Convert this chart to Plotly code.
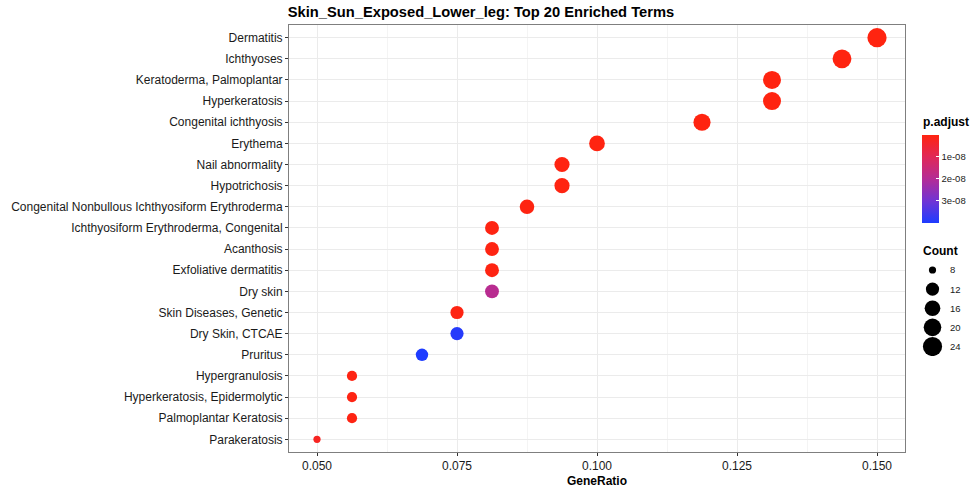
import plotly.graph_objects as go
import math

# ---------------- data ----------------
terms = [
    "Dermatitis", "Ichthyoses", "Keratoderma, Palmoplantar", "Hyperkeratosis",
    "Congenital ichthyosis", "Erythema", "Nail abnormality", "Hypotrichosis",
    "Congenital Nonbullous Ichthyosiform Erythroderma",
    "Ichthyosiform Erythroderma, Congenital", "Acanthosis", "Exfoliative dermatitis",
    "Dry skin", "Skin Diseases, Genetic", "Dry Skin, CTCAE", "Pruritus",
    "Hypergranulosis", "Hyperkeratosis, Epidermolytic", "Palmoplantar Keratosis",
    "Parakeratosis",
]
gene_ratio = [0.15, 0.14375, 0.13125, 0.13125, 0.11875, 0.1, 0.09375, 0.09375,
              0.0875, 0.08125, 0.08125, 0.08125, 0.08125, 0.075, 0.075, 0.06875,
              0.05625, 0.05625, 0.05625, 0.05]
counts = [24, 23, 21, 21, 19, 16, 15, 15, 14, 13, 13, 13, 13, 12, 12, 11, 9, 9, 9, 8]
p_adjust = [1e-12, 5e-12, 2e-11, 3e-11, 5e-11, 1e-10, 1.5e-10, 1.5e-10, 2e-10, 3e-10,
            3e-10, 3e-10, 1.9e-08, 2.5e-10, 3.9e-08, 4.0e-08, 4e-10, 4e-10, 4e-10,
            2.5e-09]
x_ticks = [0.05, 0.075, 0.1, 0.125, 0.15]
cbar_ticks = [1e-08, 2e-08, 3e-08]
count_legend = [8, 12, 16, 20, 24]

# ---------------- scales ----------------
cmin_c, cmax_c = min(counts), max(counts)


def size_scale(c):
    # ggplot-like area scale, range (3, 8)
    t = (c - cmin_c) / (cmax_c - cmin_c)
    return 2.4 * (3 + 5 * math.sqrt(t))


colorscale = [
    [0.0, "#1E3CFF"],
    [0.25, "#7034D4"],
    [0.5, "#B42C96"],
    [0.75, "#E02858"],
    [1.0, "#FF2410"],
]

W, H = 980, 490
L, R, T, B = 289, 5, 25, 38
pw = W - L - R
ph = H - T - B


def px_x(p):
    return (p - L) / pw


def px_y(p):
    return (H - B - p) / ph


FONT = "Liberation Sans, Arial, sans-serif"

LG_X0, LG_X1 = 915, 975


def lg_x(p):
    return (p - LG_X0) / (LG_X1 - LG_X0)


fig = go.Figure()

fig.add_trace(go.Scatter(
    x=gene_ratio, y=terms, mode="markers",
    marker=dict(
        size=[size_scale(c) for c in counts],
        color=[-p for p in p_adjust],
        cmin=-max(p_adjust), cmax=-min(p_adjust),
        colorscale=colorscale,
        opacity=1,
        line=dict(width=0),
        showscale=True,
        colorbar=dict(
            x=px_x(922), xanchor="left", xpad=0,
            y=px_y(178.9), yanchor="middle", ypad=0,
            len=88, lenmode="pixels", thickness=17,
            outlinewidth=0,
            tickvals=[-v for v in cbar_ticks],
            ticktext=["1e-08", "2e-08", "3e-08"],
            ticks="inside", ticklen=3, tickcolor="white",
            tickfont=dict(family=FONT, size=9.5, color="#1A1A1A"),
        ),
    ),
    showlegend=False, hoverinfo="x+y",
))

# Count legend drawn through its own axes
fig.add_trace(go.Scatter(
    x=[lg_x(932.5)] * len(count_legend), y=count_legend, mode="markers",
    marker=dict(size=[size_scale(c) for c in count_legend], color="black",
                opacity=1, line=dict(width=0)),
    xaxis="x2", yaxis="y2", showlegend=False, hoverinfo="skip",
))
for c in count_legend:
    fig.add_annotation(x=lg_x(948), y=c, xref="x2", yref="y2", text=str(c),
                       showarrow=False, xanchor="left", yanchor="middle",
                       font=dict(family=FONT, size=9.5, color="#1A1A1A"))

fig.add_annotation(x=px_x(921), y=px_y(122), xref="paper", yref="paper",
                   text="<b>p.adjust</b>", showarrow=False, xanchor="left",
                   yanchor="middle", font=dict(family=FONT, size=12, color="black"))
fig.add_annotation(x=px_x(921), y=px_y(251), xref="paper", yref="paper",
                   text="<b>Count</b>", showarrow=False, xanchor="left",
                   yanchor="middle", font=dict(family=FONT, size=12, color="black"))

fig.update_layout(
    width=W, height=H,
    margin=dict(l=L, r=R, t=T, b=B),
    paper_bgcolor="white", plot_bgcolor="white",
    font=dict(family=FONT, color="black"),
    title=dict(text="<b>Skin_Sun_Exposed_Lower_leg: Top 20 Enriched Terms</b>",
               x=481 / W, xanchor="center", y=1 - 12 / H, yanchor="middle",
               font=dict(family=FONT, size=14.7, color="black")),
    xaxis=dict(
        domain=[0, px_x(905)],
        range=[0.045, 0.155],
        tickvals=x_ticks, tickformat=".3f",
        ticks="outside", ticklen=3, tickcolor="#333333",
        tickfont=dict(family=FONT, size=12, color="#1A1A1A"),
        showgrid=True, gridcolor="#EBEBEB", gridwidth=1,
        minor=dict(dtick=0.0125, tick0=0.05, showgrid=True,
                   gridcolor="#F4F4F4", gridwidth=0.6),
        zeroline=False,
        showline=True, mirror=True, linecolor="#7F7F7F", linewidth=1,
        title=dict(text="<b>GeneRatio</b>", standoff=4,
                   font=dict(family=FONT, size=12, color="black")),
    ),
    yaxis=dict(
        type="category", categoryorder="array", categoryarray=terms[::-1],
        range=[-0.6, len(terms) - 0.4],
        ticks="outside", ticklen=3, tickcolor="#333333",
        tickfont=dict(family=FONT, size=12, color="#1A1A1A"),
        showgrid=True, gridcolor="#EBEBEB", gridwidth=1,
        zeroline=False,
        showline=True, mirror=True, linecolor="#7F7F7F", linewidth=1,
    ),
    xaxis2=dict(domain=[px_x(LG_X0), px_x(LG_X1)], range=[0, 1], visible=False,
                fixedrange=True),
    yaxis2=dict(domain=[px_y(356), px_y(260)], range=[25.99, 5.91],
                visible=False, fixedrange=True, anchor="x2"),
)

fig.write_html("out.html",
               config={"displayModeBar": False},
               post_script="document.body.style.margin='0';"
                           "document.body.style.overflow='hidden';")
